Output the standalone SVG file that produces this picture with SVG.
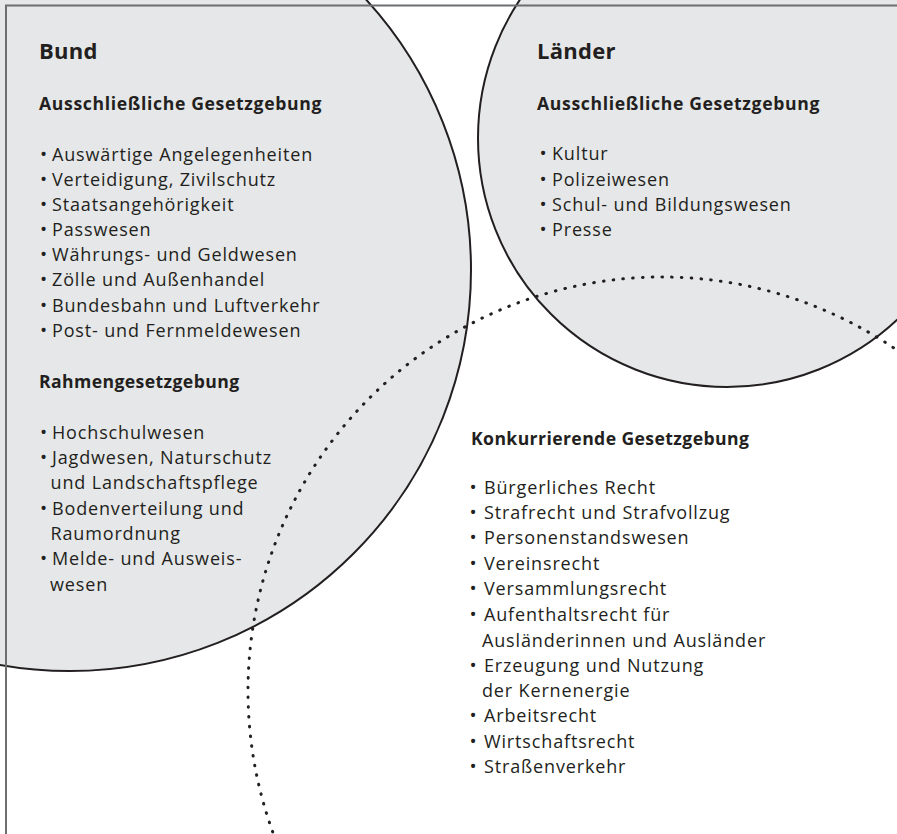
<svg xmlns="http://www.w3.org/2000/svg" width="897" height="834" viewBox="0 0 897 834">
<style>
.t{font-family:"Open Sans","Noto Sans",sans-serif;font-size:18px;fill:#231f20;letter-spacing:0.85px}
.h{font-family:"Open Sans","Noto Sans",sans-serif;font-size:17.6px;font-weight:700;fill:#231f20;letter-spacing:0.4px}
.h2{letter-spacing:0.65px}
.big{font-family:"Open Sans","Noto Sans",sans-serif;font-size:22px;font-weight:700;fill:#231f20;letter-spacing:0.3px}
.b{font-family:"Open Sans","Noto Sans",sans-serif;font-size:19px;fill:#231f20;text-anchor:middle}
.solid{fill:#e6e7e8;stroke:#231f20;stroke-width:2}
.dot{fill:none;stroke:#231f20;stroke-width:3;stroke-dasharray:0.6 9.2;stroke-linecap:round}
</style>
<rect width="897" height="834" fill="#ffffff"/>
<g id="bund-shape"><circle class="solid" cx="70" cy="270" r="401"/></g>
<g id="laender-shape"><circle class="solid" cx="727" cy="138" r="249"/></g>
<g id="frame"><path d="M6,834 V5.5 H897" fill="none" stroke="#6d6e70" stroke-width="2"/></g>
<g id="bund">
<text class="big" x="39" y="59">Bund</text>
<text class="h h2" x="39" y="110">Ausschließliche Gesetzgebung</text>
<g>
<text class="b" x="43.5" y="160.7">•</text><text class="t" x="52" y="160.7">Auswärtige Angelegenheiten</text>
<text class="b" x="43.5" y="185.8">•</text><text class="t" x="52" y="185.8">Verteidigung, Zivilschutz</text>
<text class="b" x="43.5" y="210.9">•</text><text class="t" x="52" y="210.9">Staatsangehörigkeit</text>
<text class="b" x="43.5" y="236">•</text><text class="t" x="52" y="236">Passwesen</text>
<text class="b" x="43.5" y="261.1">•</text><text class="t" x="52" y="261.1">Währungs- und Geldwesen</text>
<text class="b" x="43.5" y="286.2">•</text><text class="t" x="52" y="286.2">Zölle und Außenhandel</text>
<text class="b" x="43.5" y="311.5">•</text><text class="t" x="52" y="311.5">Bundesbahn und Luftverkehr</text>
<text class="b" x="43.5" y="337">•</text><text class="t" x="52" y="337">Post- und Fernmeldewesen</text>
</g>
<text class="h" x="39" y="388">Rahmengesetzgebung</text>
<g>
<text class="b" x="43.5" y="438.5">•</text><text class="t" x="52" y="438.5">Hochschulwesen</text>
<text class="b" x="43.5" y="464">•</text><text class="t" x="52" y="464">Jagdwesen, Naturschutz</text>
<text class="t" x="50.5" y="489.2">und Landschaftspflege</text>
<text class="b" x="43.5" y="514.6">•</text><text class="t" x="52" y="514.6">Bodenverteilung und</text>
<text class="t" x="50.5" y="540">Raumordnung</text>
<text class="b" x="43.5" y="565.3">•</text><text class="t" x="52" y="565.3">Melde- und Ausweis-</text>
<text class="t" x="50" y="591">wesen</text>
</g>
</g>
<g id="laender">
<text class="big" x="537" y="59">Länder</text>
<text class="h h2" x="537" y="110">Ausschließliche Gesetzgebung</text>
<text class="b" x="543" y="160.3">•</text><text class="t" x="552" y="160.3">Kultur</text>
<text class="b" x="543" y="185.5">•</text><text class="t" x="552" y="185.5">Polizeiwesen</text>
<text class="b" x="543" y="210.8">•</text><text class="t" x="552" y="210.8">Schul- und Bildungswesen</text>
<text class="b" x="543" y="236">•</text><text class="t" x="552" y="236">Presse</text>
</g>
<g id="konkurrierend">
<text class="h" x="471" y="445">Konkurrierende Gesetzgebung</text>
<text class="b" x="473" y="493.5">•</text><text class="t" x="484" y="493.5">Bürgerliches Recht</text>
<text class="b" x="473" y="519">•</text><text class="t" x="484" y="519">Strafrecht und Strafvollzug</text>
<text class="b" x="473" y="544.3">•</text><text class="t" x="484" y="544.3">Personenstandswesen</text>
<text class="b" x="473" y="569.6">•</text><text class="t" x="484" y="569.6">Vereinsrecht</text>
<text class="b" x="473" y="595">•</text><text class="t" x="484" y="595">Versammlungsrecht</text>
<text class="b" x="473" y="620.8">•</text><text class="t" x="484" y="620.8">Aufenthaltsrecht für</text>
<text class="t" x="482" y="646.5">Ausländerinnen und Ausländer</text>
<text class="b" x="473" y="671.8">•</text><text class="t" x="484" y="671.8">Erzeugung und Nutzung</text>
<text class="t" x="482" y="697">der Kernenergie</text>
<text class="b" x="473" y="722.3">•</text><text class="t" x="484" y="722.3">Arbeitsrecht</text>
<text class="b" x="473" y="747.7">•</text><text class="t" x="484" y="747.7">Wirtschaftsrecht</text>
<text class="b" x="473" y="773">•</text><text class="t" x="484" y="773">Straßenverkehr</text>
<circle class="dot" cx="662" cy="691" r="414"/>
</g>
</svg>
